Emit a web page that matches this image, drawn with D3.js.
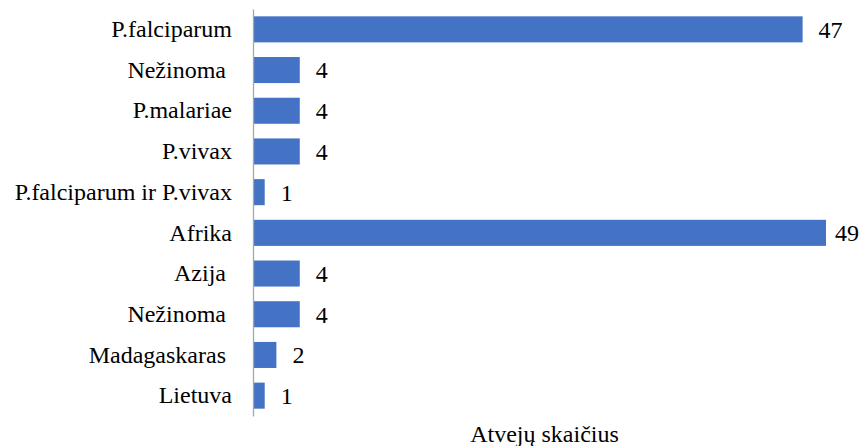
<!DOCTYPE html>
<html>
<head>
<meta charset="utf-8">
<script src="https://cdn.jsdelivr.net/npm/d3@7"></script>
<style>
  body { margin: 0; background: #fff; }
  svg text { font-family: "Liberation Serif", "Times New Roman", Times, serif; fill: #000; }
  .y-axis text { white-space: pre; }
</style>
</head>
<body>
<div id="chart"></div>
<script>
const categories = [
  'P.falciparum',
  'Nežinoma ',
  'P.malariae',
  'P.vivax',
  'P.falciparum ir P.vivax',
  'Afrika',
  'Azija ',
  'Nežinoma ',
  'Madagaskaras ',
  'Lietuva'
]
const values = [47, 4, 4, 4, 1, 49, 4, 4, 2, 1]
const xTitle = 'Atvejų skaičius'

const totalWidth = 859
const totalHeight = 446
const margin = { top: 9, left: 253, right: 33, bottom: 30 }
const width = totalWidth - margin.left - margin.right
const height = totalHeight - margin.top - margin.bottom
const fontSize = 24

const svg = d3
  .select('#chart')
  .append('svg')
  .attr('width', totalWidth)
  .attr('height', totalHeight)
  .append('g')
  .attr('transform', 'translate(' + margin.left + ',' + margin.top + ')')

const xPositionScale = d3.scaleLinear().domain([0, 49]).range([0, width])
const yPositionScale = d3
  .scaleBand()
  .domain(d3.range(categories.length))
  .range([0, height])
  .paddingInner(0.36)
  .paddingOuter(0.18)

svg
  .selectAll('.bar')
  .data(values)
  .enter()
  .append('rect')
  .attr('class', 'bar')
  .attr('x', 0)
  .attr('y', (d, i) => yPositionScale(i))
  .attr('width', d => xPositionScale(d))
  .attr('height', yPositionScale.bandwidth())
  .attr('fill', '#4472C4')

svg
  .selectAll('.value-label')
  .data(values)
  .enter()
  .append('text')
  .attr('class', 'value-label')
  .attr('x', d => Math.min(xPositionScale(d) + 16, width + margin.right - 24))
  .attr('y', (d, i) => yPositionScale(i) + yPositionScale.bandwidth() / 2)
  .attr('dy', '0.35em')
  .attr('font-size', fontSize)
  .text(d => d)

const yAxis = d3
  .axisLeft(yPositionScale)
  .tickSize(0)
  .tickPadding(21)
  .tickFormat(i => categories[i])

const yAxisG = svg
  .append('g')
  .attr('class', 'axis y-axis')
  .call(yAxis)
  .attr('font-size', fontSize)

yAxisG.select('.domain').attr('stroke', '#a6a6a6').attr('stroke-width', 1.3)

svg
  .append('text')
  .attr('x', width / 2 + 5)
  .attr('y', height + 26)
  .attr('text-anchor', 'middle')
  .attr('font-size', fontSize)
  .text(xTitle)
</script>
</body>
</html>
